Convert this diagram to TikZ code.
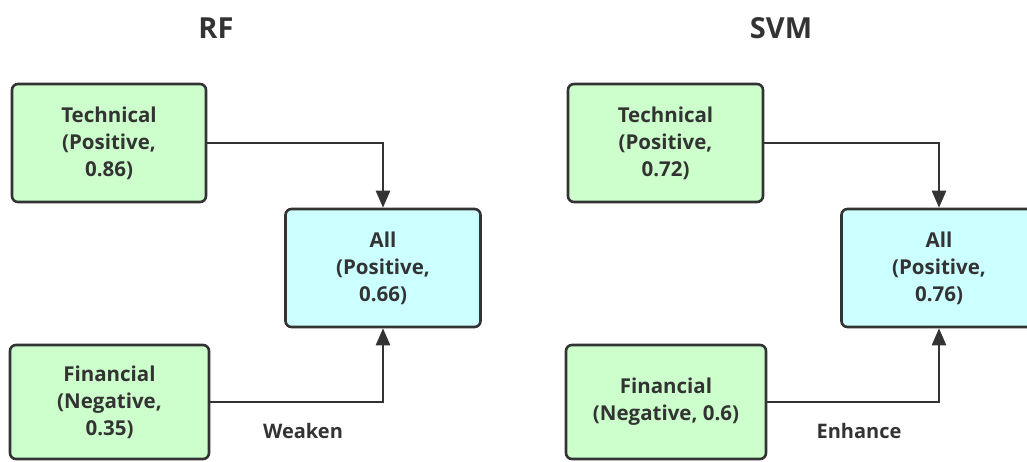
\documentclass[tikz,border=0pt]{standalone}
\usepackage{fontspec}
\setmainfont{Open Sans}
\usetikzlibrary{arrows.meta}
\definecolor{edge}{HTML}{333333}
\definecolor{mint}{HTML}{CCFFCC}
\definecolor{aqua}{HTML}{CCFFFF}
\tikzset{
  box/.style={draw=edge, line width=2.6pt, rounded corners=6pt, align=center,
    text=edge, font=\fontsize{20.5}{27}\selectfont\bfseries, inner sep=0pt},
  inbox/.style={box, fill=mint},
  outbox/.style={box, fill=aqua},
  link/.style={draw=edge, line width=2.6pt, -{Triangle[length=17pt,width=14pt]}},
  title/.style={text=edge, font=\fontsize{29}{32}\selectfont\bfseries},
  note/.style={text=edge, font=\fontsize{20}{24}\selectfont\bfseries}
}
\begin{document}
\begin{tikzpicture}[x=1pt, y=-1pt]
  \useasboundingbox (0,0) rectangle (1027,462);

  % RF panel
  \node[title] (rft) at (216,28) {RF};
  \node[inbox, minimum width=194pt, minimum height=118pt] (rtech) at (109,143) {Technical\\(Positive,\\0.86)};
  \node[outbox, minimum width=195pt, minimum height=118pt] (rall) at (383,268) {All\\(Positive,\\0.66)};
  \node[inbox, minimum width=199pt, minimum height=114pt] (rfin) at (109.5,402) {Financial\\(Negative,\\0.35)};
  \draw[link] (rtech.east) -| (rall.north);
  \draw[link] (rfin.east) -| (rall.south);
  \node[note] (rlab) at (303,431) {Weaken};

  % SVM panel
  \node[title] (svt) at (781,28) {SVM};
  \node[inbox, minimum width=195pt, minimum height=118pt] (stech) at (665.5,143) {Technical\\(Positive,\\0.72)};
  \node[outbox, minimum width=195pt, minimum height=118pt] (sall) at (939,268) {All\\(Positive,\\0.76)};
  \node[inbox, minimum width=200pt, minimum height=114pt] (sfin) at (666,402) {Financial\\(Negative, 0.6)};
  \draw[link] (stech.east) -| (sall.north);
  \draw[link] (sfin.east) -| (sall.south);
  \node[note] (slab) at (859,431) {Enhance};
\end{tikzpicture}
\end{document}
